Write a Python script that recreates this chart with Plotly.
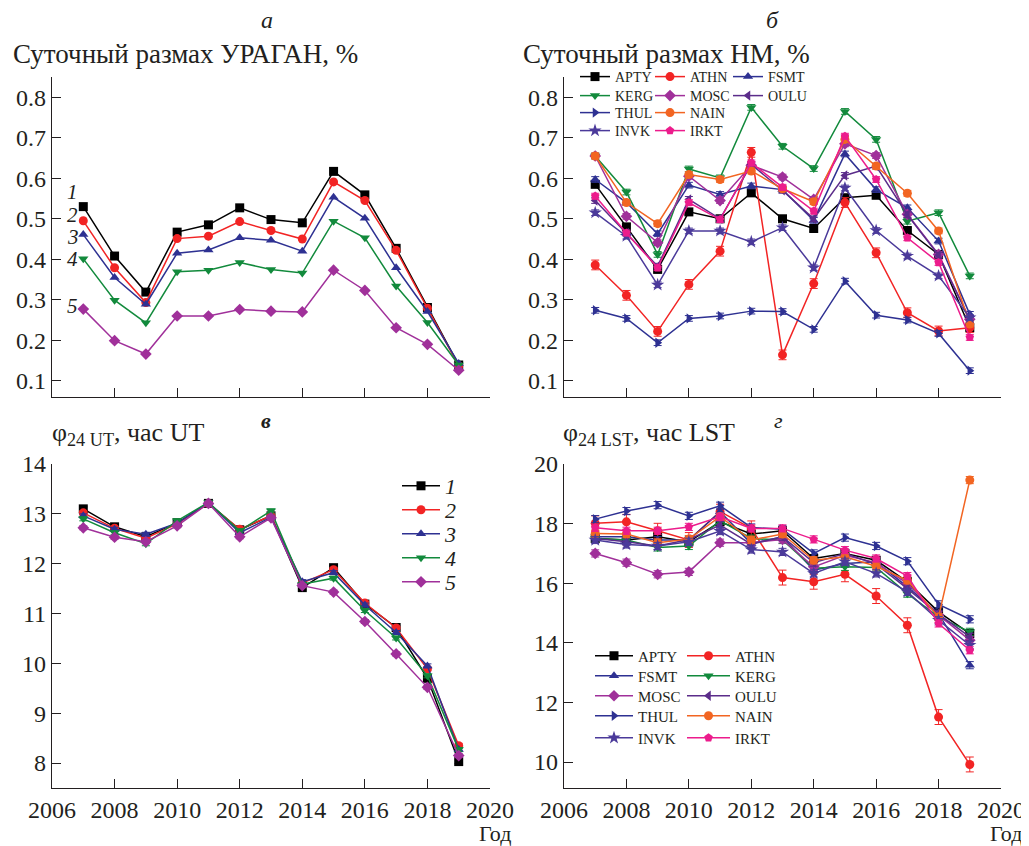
import plotly.graph_objects as go

# The page body has an 8px margin, so the figure is drawn 8px in from the window edge;
# it is sized to reach the right and bottom edges of the window.
OFF = 8
W, H = 1029 - OFF, 846 - OFF
FONT = "Liberation Serif"

years = list(range(2007, 2020))

# ---- Panel a: daily amplitude URAGAN, % (channels 1..5)
urag_names = ["1", "2", "3", "4", "5"]
urag_1 = [0.530, 0.408, 0.319, 0.467, 0.485, 0.527, 0.498, 0.490, 0.617, 0.559, 0.427, 0.281, 0.139]
urag_2 = [0.495, 0.379, 0.293, 0.451, 0.457, 0.493, 0.471, 0.450, 0.591, 0.545, 0.422, 0.279, 0.137]
urag_3 = [0.461, 0.355, 0.289, 0.415, 0.423, 0.453, 0.447, 0.420, 0.553, 0.501, 0.379, 0.271, 0.143]
urag_4 = [0.401, 0.299, 0.243, 0.369, 0.373, 0.392, 0.375, 0.366, 0.494, 0.453, 0.334, 0.244, 0.139]
urag_5 = [0.277, 0.199, 0.166, 0.260, 0.260, 0.276, 0.272, 0.270, 0.373, 0.323, 0.231, 0.190, 0.126]
urag_label_y = [0.566, 0.509, 0.454, 0.401, 0.284]

# ---- Panel b: daily amplitude NM, %
nm_names = ["APTY", "ATHN", "FSMT", "KERG", "MOSC", "OULU", "THUL", "NAIN", "INVK", "IRKT"]
nm_APTY = [0.585, 0.480, 0.375, 0.517, 0.500, 0.564, 0.500, 0.476, 0.552, 0.558, 0.471, 0.412, 0.231]
nm_ATHN = [0.386, 0.311, 0.222, 0.338, 0.420, 0.664, 0.164, 0.340, 0.540, 0.416, 0.268, 0.223, 0.231]
nm_FSMT = [0.597, 0.540, 0.463, 0.583, 0.560, 0.581, 0.572, 0.496, 0.660, 0.572, 0.527, 0.445, 0.264]
nm_KERG = [0.655, 0.566, 0.412, 0.623, 0.601, 0.775, 0.679, 0.624, 0.765, 0.696, 0.494, 0.515, 0.359]
nm_MOSC = [0.655, 0.506, 0.441, 0.605, 0.545, 0.632, 0.603, 0.548, 0.685, 0.656, 0.511, 0.412, 0.252]
nm_OULU = [0.545, 0.465, 0.383, 0.548, 0.500, 0.634, 0.570, 0.500, 0.607, 0.630, 0.510, 0.410, 0.250]
nm_THUL = [0.274, 0.254, 0.194, 0.254, 0.260, 0.272, 0.271, 0.227, 0.346, 0.262, 0.250, 0.217, 0.125]
nm_NAIN = [0.655, 0.540, 0.488, 0.609, 0.597, 0.618, 0.574, 0.542, 0.696, 0.630, 0.563, 0.470, 0.240]
nm_INVK = [0.515, 0.457, 0.337, 0.470, 0.470, 0.443, 0.478, 0.379, 0.576, 0.471, 0.408, 0.359, 0.256]
nm_IRKT = [0.556, 0.465, 0.379, 0.540, 0.498, 0.638, 0.578, 0.519, 0.704, 0.597, 0.453, 0.392, 0.207]

# ---- Panel c: phi24 UT, hour UT
ut_1 = [13.10, 12.74, 12.54, 12.82, 13.21, 12.68, 12.96, 11.52, 11.92, 11.19, 10.72, 9.70, 8.03]
ut_2 = [13.02, 12.71, 12.51, 12.80, 13.21, 12.69, 12.96, 11.61, 11.88, 11.21, 10.71, 9.89, 8.35]
ut_3 = [12.96, 12.69, 12.59, 12.81, 13.23, 12.62, 12.93, 11.64, 11.82, 11.17, 10.62, 9.95, 8.27]
ut_4 = [12.90, 12.62, 12.40, 12.86, 13.23, 12.66, 13.06, 11.59, 11.71, 11.06, 10.51, 9.75, 8.27]
ut_5 = [12.72, 12.53, 12.44, 12.76, 13.21, 12.54, 12.92, 11.56, 11.43, 10.84, 10.19, 9.52, 8.15]

# ---- Panel d: phi24 LST, hour LST
lst_APTY = [17.50, 17.45, 17.56, 17.39, 18.06, 17.65, 17.76, 16.83, 17.00, 16.77, 16.05, 15.04, 14.31]
lst_ATHN = [18.01, 18.06, 17.76, 17.45, 18.40, 17.84, 16.19, 16.05, 16.30, 15.57, 14.59, 11.51, 9.92]
lst_FSMT = [17.56, 17.56, 17.45, 17.45, 18.40, 17.33, 17.56, 16.44, 16.66, 16.72, 15.88, 14.98, 13.25]
lst_KERG = [17.50, 17.45, 17.20, 17.25, 18.10, 17.50, 17.45, 16.50, 16.55, 16.53, 15.65, 14.87, 14.37]
lst_MOSC = [17.00, 16.69, 16.30, 16.38, 17.36, 17.36, 17.47, 16.55, 16.94, 16.69, 15.99, 14.93, 14.09]
lst_OULU = [17.50, 17.39, 17.25, 17.47, 17.95, 17.31, 17.56, 16.69, 17.00, 16.64, 15.82, 14.96, 14.20]
lst_THUL = [18.15, 18.42, 18.62, 18.26, 18.60, 17.87, 17.81, 17.00, 17.53, 17.25, 16.74, 15.29, 14.79]
lst_NAIN = [17.67, 17.65, 17.36, 17.48, 18.23, 17.45, 17.65, 16.77, 16.89, 16.57, 16.10, 14.87, 19.46]
lst_INVK = [17.45, 17.30, 17.25, 17.39, 17.75, 17.13, 17.05, 16.33, 16.72, 16.33, 15.71, 14.76, 13.92]
lst_IRKT = [17.86, 17.76, 17.76, 17.89, 18.23, 17.84, 17.84, 17.47, 17.11, 16.83, 16.24, 14.65, 13.75]

x_ticks = list(range(2006, 2021, 2))

# ---- styles
five_colors = ["#000000", "#f22424", "#2e3192", "#128a3c", "#a0309a"]
five_symbols = ["square", "circle", "triangle-up", "triangle-down", "diamond"]
st_colors = {"APTY": "#000000", "ATHN": "#f22424", "FSMT": "#2e3192", "KERG": "#128a3c",
             "MOSC": "#a0309a", "OULU": "#5b2c8a", "THUL": "#2e3192", "NAIN": "#f26522",
             "INVK": "#4b3a9a", "IRKT": "#ec1c8c"}
st_symbols = {"APTY": "square", "ATHN": "circle", "FSMT": "triangle-up", "KERG": "triangle-down",
              "MOSC": "diamond", "OULU": "triangle-left", "THUL": "triangle-right", "NAIN": "circle",
              "INVK": "star", "IRKT": "pentagon"}

def px_x(p):
    return (p - OFF) / W

def px_y(p):
    return 1 - (p - OFF) / H

fig = go.Figure()
legends = {}
leg_count = [0]

def new_legend(x_line, y_mid, size, itemwidth):
    leg_count[0] += 1
    key = "legend" if leg_count[0] == 1 else "legend%d" % leg_count[0]
    legends[key] = dict(x=px_x(x_line - 5), y=px_y(y_mid), xanchor="left", yanchor="middle",
                        font=dict(family=FONT, size=size, color="#231f20"),
                        bgcolor="rgba(0,0,0,0)", borderwidth=0, itemwidth=itemwidth,
                        tracegroupgap=0)
    return key

urag = [urag_1, urag_2, urag_3, urag_4, urag_5]
for i, vals in enumerate(urag):
    fig.add_trace(go.Scatter(x=years, y=vals, mode="lines+markers", name=urag_names[i],
                             line=dict(color=five_colors[i], width=1.5),
                             marker=dict(symbol=five_symbols[i], size=9, color=five_colors[i]),
                             xaxis="x", yaxis="y", showlegend=False))

# legend cells for panel b: (line start x, row centre y)
nm = dict(APTY=nm_APTY, ATHN=nm_ATHN, FSMT=nm_FSMT, KERG=nm_KERG, MOSC=nm_MOSC,
          OULU=nm_OULU, THUL=nm_THUL, NAIN=nm_NAIN, INVK=nm_INVK, IRKT=nm_IRKT)
nm_cells = {"APTY": (580, 77), "ATHN": (655, 77), "FSMT": (733, 77),
            "KERG": (580, 96), "MOSC": (655, 96), "OULU": (733, 96),
            "THUL": (580, 113), "NAIN": (655, 113),
            "INVK": (580, 131), "IRKT": (655, 131)}
for name in nm_names:
    err = 0.012 if name == "ATHN" else 0.007
    cx, cy = nm_cells[name]
    key = new_legend(cx, cy, 14, 30)
    fig.add_trace(go.Scatter(x=years, y=nm[name], mode="lines+markers", name=name,
                             line=dict(color=st_colors[name], width=1.5),
                             marker=dict(symbol=st_symbols[name], size=10 if name == "INVK" else 9,
                                         color=st_colors[name]),
                             error_y=dict(type="constant", value=err, color=st_colors[name],
                                          thickness=1, width=4),
                             xaxis="x2", yaxis="y2", legend=key))

ut = [ut_1, ut_2, ut_3, ut_4, ut_5]
ut_rows = [486, 510, 534, 558, 582]
for i, vals in enumerate(ut):
    key = new_legend(402, ut_rows[i], 22, 38)
    fig.add_trace(go.Scatter(x=years, y=vals, mode="lines+markers", name="<i>%s</i>" % urag_names[i],
                             line=dict(color=five_colors[i], width=1.5),
                             marker=dict(symbol=five_symbols[i], size=9, color=five_colors[i]),
                             error_y=dict(type="constant", value=0.04, color=five_colors[i],
                                          thickness=1, width=4),
                             xaxis="x3", yaxis="y3", legend=key))

lst = dict(APTY=lst_APTY, ATHN=lst_ATHN, FSMT=lst_FSMT, KERG=lst_KERG, MOSC=lst_MOSC,
           OULU=lst_OULU, THUL=lst_THUL, NAIN=lst_NAIN, INVK=lst_INVK, IRKT=lst_IRKT)
lst_cells = {"APTY": (595, 656, 38), "ATHN": (687, 656, 43),
             "FSMT": (595, 676, 38), "KERG": (687, 676, 43),
             "MOSC": (595, 696, 38), "OULU": (687, 696, 43),
             "THUL": (595, 716, 38), "NAIN": (687, 716, 43),
             "INVK": (595, 738, 38), "IRKT": (687, 738, 43)}
for name in nm_names:
    err = 0.25 if name == "ATHN" else 0.12
    cx, cy, iw = lst_cells[name]
    key = new_legend(cx, cy, 15, iw)
    fig.add_trace(go.Scatter(x=years, y=lst[name], mode="lines+markers", name=name,
                             line=dict(color=st_colors[name], width=1.5),
                             marker=dict(symbol=st_symbols[name], size=10 if name == "INVK" else 9,
                                         color=st_colors[name]),
                             error_y=dict(type="constant", value=err, color=st_colors[name],
                                          thickness=1, width=4),
                             xaxis="x4", yaxis="y4", legend=key))

xl = [px_x(52), px_x(490)]
xr = [px_x(564), px_x(1001)]
yt = [px_y(397), px_y(77)]
yb = [px_y(788), px_y(464)]

tickfont = dict(family=FONT, size=24, color="#231f20")
common_ax = dict(showline=True, linecolor="#231f20", linewidth=1.3, ticks="inside", ticklen=9,
                 tickcolor="#231f20", tickwidth=1.3, showgrid=False, zeroline=False,
                 tickfont=tickfont, automargin=False, ticklabeloverflow="allow")

def xax(domain, anchor, labels):
    return dict(domain=domain, anchor=anchor, range=[2006, 2020], tickmode="array",
                tickvals=x_ticks, showticklabels=labels, **common_ax)

fig.update_layout(
    width=W, height=H, margin=dict(l=0, r=0, t=0, b=0, autoexpand=False),
    paper_bgcolor="white", plot_bgcolor="white",
    font=dict(family=FONT, color="#231f20"),
    xaxis=xax(xl, "y", False),
    xaxis2=xax(xr, "y2", False),
    xaxis3=xax(xl, "y3", True),
    xaxis4=xax(xr, "y4", True),
    yaxis=dict(domain=yt, anchor="x", range=[0.06, 0.85], tickvals=[0.1, 0.2, 0.3, 0.4, 0.5, 0.6, 0.7, 0.8],
               tickformat=".1f", **common_ax),
    yaxis2=dict(domain=yt, anchor="x2", range=[0.06, 0.85], tickvals=[0.1, 0.2, 0.3, 0.4, 0.5, 0.6, 0.7, 0.8],
                tickformat=".1f", **common_ax),
    yaxis3=dict(domain=yb, anchor="x3", range=[7.5, 14], tickvals=[8, 9, 10, 11, 12, 13, 14], **common_ax),
    yaxis4=dict(domain=yb, anchor="x4", range=[9.13, 20], tickvals=[10, 12, 14, 16, 18, 20], **common_ax),
)
fig.update_layout(**legends)

ann = []
def text(x, y, s, size=23, italic=False, xanchor="left", yanchor="middle", xref="paper", yref="paper"):
    ann.append(dict(x=x, y=y, xref=xref, yref=yref, text=("<i>%s</i>" % s) if italic else s,
                    showarrow=False, xanchor=xanchor, yanchor=yanchor,
                    font=dict(family=FONT, size=size, color="#231f20")))

text(px_x(267), px_y(20), "а", size=24, italic=True, xanchor="center")
text(px_x(772), px_y(20), "б", size=24, italic=True, xanchor="center")
text(px_x(266), px_y(421), "<b>в</b>", size=22, italic=True, xanchor="center")
text(px_x(778), px_y(420), "г", size=22, italic=True, xanchor="center")
text(px_x(11), px_y(54), "Суточный размах УРАГАН, %", size=27)
text(px_x(521), px_y(54), "Суточный размах НМ, %", size=27)
text(px_x(50), px_y(434), "φ<sub>24 UT</sub>, час UT", size=26)
text(px_x(561), px_y(434), "φ<sub>24 LST</sub>, час LST", size=26)
text(px_x(477), px_y(833), "Год", size=22)
text(px_x(988), px_y(833), "Год", size=22)
for i, yv in enumerate(urag_label_y):
    text(2006.67, yv, urag_names[i], size=21, italic=True, xanchor="center", xref="x", yref="y")

fig.update_layout(annotations=ann)
fig.write_html("out.html")
